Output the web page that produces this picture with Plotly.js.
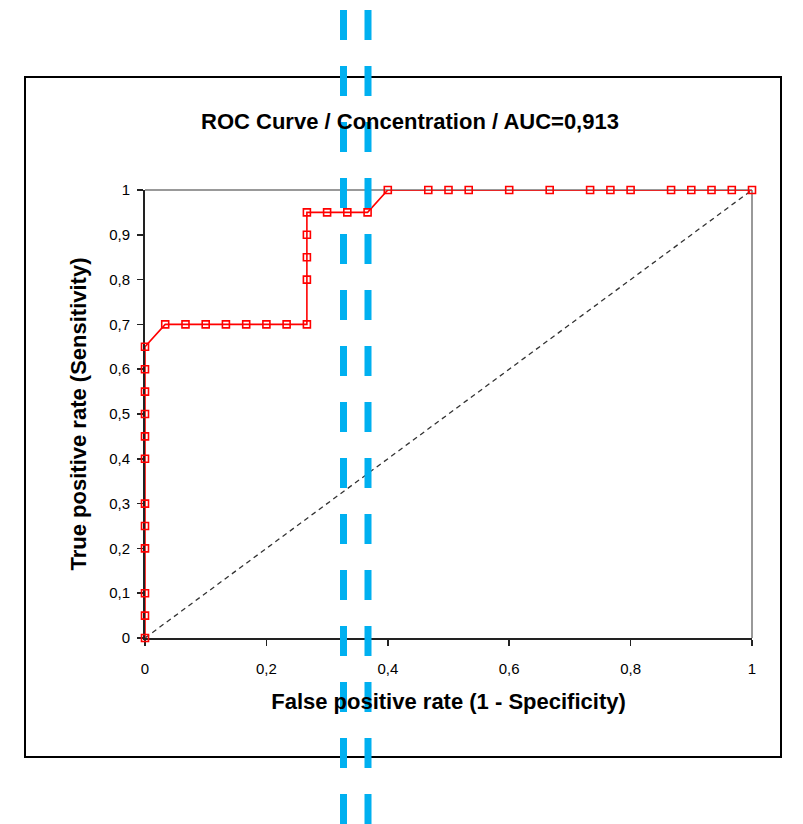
<!DOCTYPE html>
<html>
<head>
<meta charset="utf-8">
<script src="https://cdn.plot.ly/plotly-3.0.1.min.js"></script>
<style>
html,body{margin:0;padding:0;background:#fff;}
#chart{width:803px;height:824px;}
</style>
</head>
<body>
<div id="chart"></div>
<script>
// ROC curve points (False positive rate, True positive rate)
const fpr = [0, 0, 0, 0, 0, 0, 0, 0, 0, 0, 0, 0,
  0.0333, 0.0667, 0.1, 0.1333, 0.1667, 0.2, 0.2333, 0.2667,
  0.2667, 0.2667, 0.2667, 0.2667,
  0.3, 0.3333, 0.3667,
  0.4, 0.4667, 0.5, 0.5333, 0.6, 0.6667, 0.7333, 0.7667, 0.8, 0.8667, 0.9, 0.9333, 0.9667, 1.0];
const tpr = [0, 0.05, 0.1, 0.2, 0.25, 0.3, 0.4, 0.45, 0.5, 0.55, 0.6, 0.65,
  0.7, 0.7, 0.7, 0.7, 0.7, 0.7, 0.7, 0.7,
  0.8, 0.85, 0.9, 0.95,
  0.95, 0.95, 0.95,
  1, 1, 1, 1, 1, 1, 1, 1, 1, 1, 1, 1, 1, 1];
const diagX = [0, 1];
const diagY = [0, 1];
const titleText = "ROC Curve / Concentration / AUC=0,913";
const xTitle = "False positive rate (1 - Specificity)";
const yTitle = "True positive rate (Sensitivity)";
const xTickVals = [0, 0.2, 0.4, 0.6, 0.8, 1];
const yTickVals = [0, 0.1, 0.2, 0.3, 0.4, 0.5, 0.6, 0.7, 0.8, 0.9, 1];

const W = 803, H = 824;
const mL = 145, mR = 51, mT = 190, mB = 186;
const pw = W - mL - mR, ph = H - mT - mB;
const px = v => (v - mL) / pw;           // pixel x -> paper
const py = v => (H - mB - v) / ph;       // pixel y -> paper

const traces = [
  {x: diagX, y: diagY, mode: 'lines', type: 'scatter',
   line: {color: '#333333', width: 1.3, dash: '5px,4px'}, hoverinfo: 'skip', showlegend: false},
  {x: fpr, y: tpr, mode: 'lines+markers', type: 'scatter',
   line: {color: '#FF0000', width: 1.6},
   marker: {symbol: 'square-open', size: 7, color: '#FF0000', line: {width: 1.6, color: '#FF0000'}},
   cliponaxis: false, showlegend: false}
];

const blue = {color: '#00B0F0', width: 7, dash: '30px,26px'};
const layout = {
  width: W, height: H,
  margin: {l: mL, r: mR, t: mT, b: mB},
  paper_bgcolor: '#ffffff', plot_bgcolor: '#ffffff',
  separators: ', ',
  font: {family: 'Liberation Sans, Arial, sans-serif', color: '#000000', size: 15},
  title: {text: '<b>' + titleText + '</b>', font: {size: 22, family: 'Liberation Sans, Arial, sans-serif', color: '#000'},
          xref: 'container', yref: 'container', x: 410 / W, y: 1 - 121 / H, xanchor: 'center', yanchor: 'middle'},
  xaxis: {range: [0, 1], tickvals: xTickVals, showgrid: false, zeroline: false,
          showline: true, linecolor: '#222', linewidth: 2, layer: 'below traces',
          ticks: 'outside', ticklen: 6, tickwidth: 1.5, tickcolor: '#222',
          ticklabelstandoff: 10, tickfont: {size: 15},
          title: {text: '<b>' + xTitle + '</b>', font: {size: 22}, standoff: 18}},
  yaxis: {range: [0, 1], tickvals: yTickVals, showgrid: false, zeroline: false,
          showline: true, linecolor: '#222', linewidth: 2, layer: 'below traces',
          ticks: 'outside', ticklen: 6, tickwidth: 1.5, tickcolor: '#222',
          ticklabelstandoff: 4, tickfont: {size: 15},
          title: {text: '<b>' + yTitle + '</b>', font: {size: 22}, standoff: 16}},
  shapes: [
    // plot-area top and right border (gray)
    {type: 'line', xref: 'x domain', yref: 'y domain', x0: 0, x1: 1, y0: 1, y1: 1, line: {color: '#999999', width: 2}, layer: 'below'},
    {type: 'line', xref: 'x domain', yref: 'y domain', x0: 1, x1: 1, y0: 0, y1: 1, line: {color: '#999999', width: 2}, layer: 'below'},
    // outer chart frame
    {type: 'rect', xref: 'paper', yref: 'paper', x0: px(25), x1: px(781), y0: py(757), y1: py(77),
     line: {color: '#000000', width: 2}, layer: 'above'},
    // blue dashed break lines
    {type: 'line', xref: 'paper', yref: 'paper', x0: px(343.5), x1: px(343.5), y0: py(10), y1: py(824), line: blue, layer: 'above'},
    {type: 'line', xref: 'paper', yref: 'paper', x0: px(368), x1: px(368), y0: py(10), y1: py(824), line: blue, layer: 'above'}
  ]
};

Plotly.newPlot('chart', traces, layout, {displayModeBar: false, staticPlot: true});
</script>
</body>
</html>
